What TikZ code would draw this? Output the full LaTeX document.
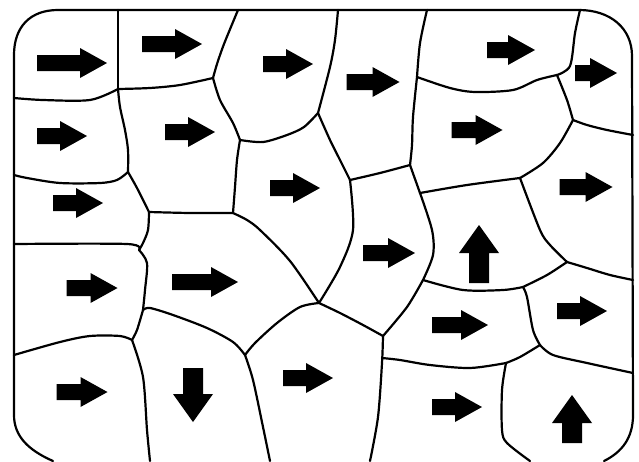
\documentclass[tikz,border=0pt]{standalone}
\usepackage{tikz}
\tikzset{
  wall/.style={draw=black, line width=2.2pt, line cap=round, line join=round},
  flow/.style={fill=black},
}

\begin{document}
\begin{tikzpicture}[x=1pt, y=-1pt]

\useasboundingbox (0,0) rectangle (639,461);
\fill[white] (0,0) rectangle (639,461);
\clip (0,0) rectangle (639,461);

% Junctions where the cell walls meet.
\coordinate (a) at (118,89);
\coordinate (b) at (213,78);
\coordinate (c) at (240,140);
\coordinate (d) at (318,113);
\coordinate (e) at (350,180);
\coordinate (f) at (410,165);
\coordinate (g) at (417,77);
\coordinate (h) at (557,75);
\coordinate (i) at (573,120);
\coordinate (j) at (520,178);
\coordinate (k) at (420,193);
\coordinate (l) at (128,172);
\coordinate (m) at (149,212);
\coordinate (n) at (233,213);
\coordinate (o) at (139,250);
\coordinate (p) at (143,310);
\coordinate (q) at (132,340);
\coordinate (r) at (245,355);
\coordinate (v) at (319,303);
\coordinate (s) at (383,336);
\coordinate (t) at (423,280);
\coordinate (u) at (523,287);
\coordinate (w) at (567,262);
\coordinate (x) at (506,363);
\coordinate (y) at (540,345);

% Outer wall with rounded corners.
\draw[wall] (53,461) .. controls (28,450) and (14,436) .. (14,415)
  -- (14,55) .. controls (14,27) and (30,10) .. (58,10)
  -- (579,10) .. controls (610,10) and (632,28) .. (632,56)
  -- (633,415) .. controls (633,438) and (622,452) .. (604,461);

% Cell walls.
\draw[wall] (118,10) -- (a);
\draw[wall] plot[smooth] coordinates {(a) (150,88) (180,85) (b)};
\draw[wall] plot[smooth] coordinates {(b) (217,64) (224,44) (238,10)};
\draw[wall] plot[smooth] coordinates {(b) (220,100) (233,123) (c)};
\draw[wall] plot[smooth] coordinates {(c) (263,142) (287,135) (304,127) (d)};
\draw[wall] plot[smooth] coordinates {(338,10) (335,40) (330,67) (d)};
\draw[wall] plot[smooth] coordinates {(d) (330,140) (340,160) (e)};
\draw[wall] plot[smooth] coordinates {(e) (380,173) (f)};
\draw[wall] plot[smooth] coordinates {(f) (412,145) (413,117) (g)};
\draw[wall] plot[smooth] coordinates {(g) (420,43) (427,10)};
\draw[wall] plot[smooth] coordinates {(g) (450,88) (475,92) (513,90)
  (537,80) (h)};
\draw[wall] plot[smooth] coordinates {(h) (570,66) (575,33) (580,10)};
\draw[wall] plot[smooth] coordinates {(h) (567,100) (i)};
\draw[wall] plot[smooth] coordinates {(i) (587,125) (607,130) (633,135)};
\draw[wall] plot[smooth] coordinates {(i) (560,143) (543,163) (j)};
\draw[wall] (f) -- (k);
\draw[wall] plot[smooth] coordinates {(k) (467,185) (j)};
\draw[wall] plot[smooth] coordinates {(e) (353,230) (340,267) (v)};
\draw[wall] plot[smooth] coordinates {(k) (432,230) (433,255) (t)};
\draw[wall] plot[smooth] coordinates {(j) (540,230) (550,245) (w)};
\draw[wall] plot[smooth] coordinates {(w) (587,268) (610,275) (633,280)};
\draw[wall] plot[smooth] coordinates {(t) (463,290) (503,290) (u)};
\draw[wall] plot[smooth] coordinates {(u) (547,275) (w)};
\draw[wall] plot[smooth] coordinates {(t) (407,307) (s)};
\draw[wall] plot[smooth] coordinates {(v) (340,313) (363,325) (s)};
\draw[wall] plot[smooth] coordinates {(s) (382,363) (378,417) (370,461)};
\draw[wall] plot[smooth] coordinates {(382,358) (400,360) (430,365)
  (470,368) (x)};
\draw[wall] plot[smooth] coordinates {(x) (520,357) (y)};
\draw[wall] plot[smooth] coordinates {(u) (527,297) (533,330) (y)};
\draw[wall] plot[smooth] coordinates {(y) (553,355) (587,363) (633,373)};
\draw[wall] plot[smooth] coordinates {(x) (502,390) (502,430) (507,443)
  (530,461)};
\draw[wall] plot[smooth] coordinates {(14,98) (43,100) (90,100) (a)};
\draw[wall] plot[smooth] coordinates {(a) (120,107) (125,130) (128,150) (l)};
\draw[wall] plot[smooth] coordinates {(14,175) (27,178) (60,183) (100,183)
  (117,180) (l)};
\draw[wall] plot[smooth] coordinates {(l) (137,188) (m)};
\draw[wall] plot[smooth] coordinates {(m) (190,213) (n)};
\draw[wall] plot[smooth] coordinates {(c) (237,160) (235,187) (n)};
\draw[wall] plot[smooth] coordinates {(n) (247,220) (260,230) (290,261) (v)};
\draw[wall] plot[smooth] coordinates {(m) (148,230) (143,243) (o)};
\draw[wall] plot[smooth] coordinates {(14,244) (127,244) (o)};
\draw[wall] plot[smooth] coordinates {(o) (147,263) (145,290) (p)};
\draw[wall] plot[smooth] coordinates {(p) (150,308) (173,315) (207,328)
  (233,342) (r)};
\draw[wall] plot[smooth] coordinates {(r) (255,343) (277,323) (300,307) (v)};
\draw[wall] plot[smooth] coordinates {(p) (137,330) (q)};
\draw[wall] plot[smooth] coordinates {(14,355) (60,342) (90,336) (120,336) (q)};
\draw[wall] plot[smooth] coordinates {(q) (143,377) (147,430) (150,461)};
\draw[wall] plot[smooth] coordinates {(r) (253,380) (263,427) (270,461)};

% Flow arrows, one per cell (centre x / centre y / length).
\foreach \ax/\ay/\len in {%
    72/63/70, 172/44/60, 288/64/50, 373/82/53, 511/50/48, 596/73/42,
    62/136/50, 190/132/50, 477/130/51, 78/203/50, 295/188/50, 586/187/53,
    92/288/51, 205/282/66, 389/253/52, 460/325/56, 582/311/50,
    82/392/51, 308/378/50, 457/407/50} {
  \begin{scope}[shift={(\ax,\ay)}]
    \fill[flow] ({-\len/2},-8) -- ({\len/2-27},-8) -- ({\len/2-27},-15)
      -- ({\len/2},0) -- ({\len/2-27},15) -- ({\len/2-27},8)
      -- ({-\len/2},8) -- cycle;
  \end{scope}
}
\foreach \ax/\ay/\len/\dir in {193/395/54/-90, 479/254/58/90, 572/419/48/90} {
  \begin{scope}[shift={(\ax,\ay)}, rotate=\dir]
    \fill[flow] ({-\len/2},-10) -- ({\len/2-28},-10) -- ({\len/2-28},-20)
      -- ({\len/2},0) -- ({\len/2-28},20) -- ({\len/2-28},10)
      -- ({-\len/2},10) -- cycle;
  \end{scope}
}

\end{tikzpicture}
\end{document}
